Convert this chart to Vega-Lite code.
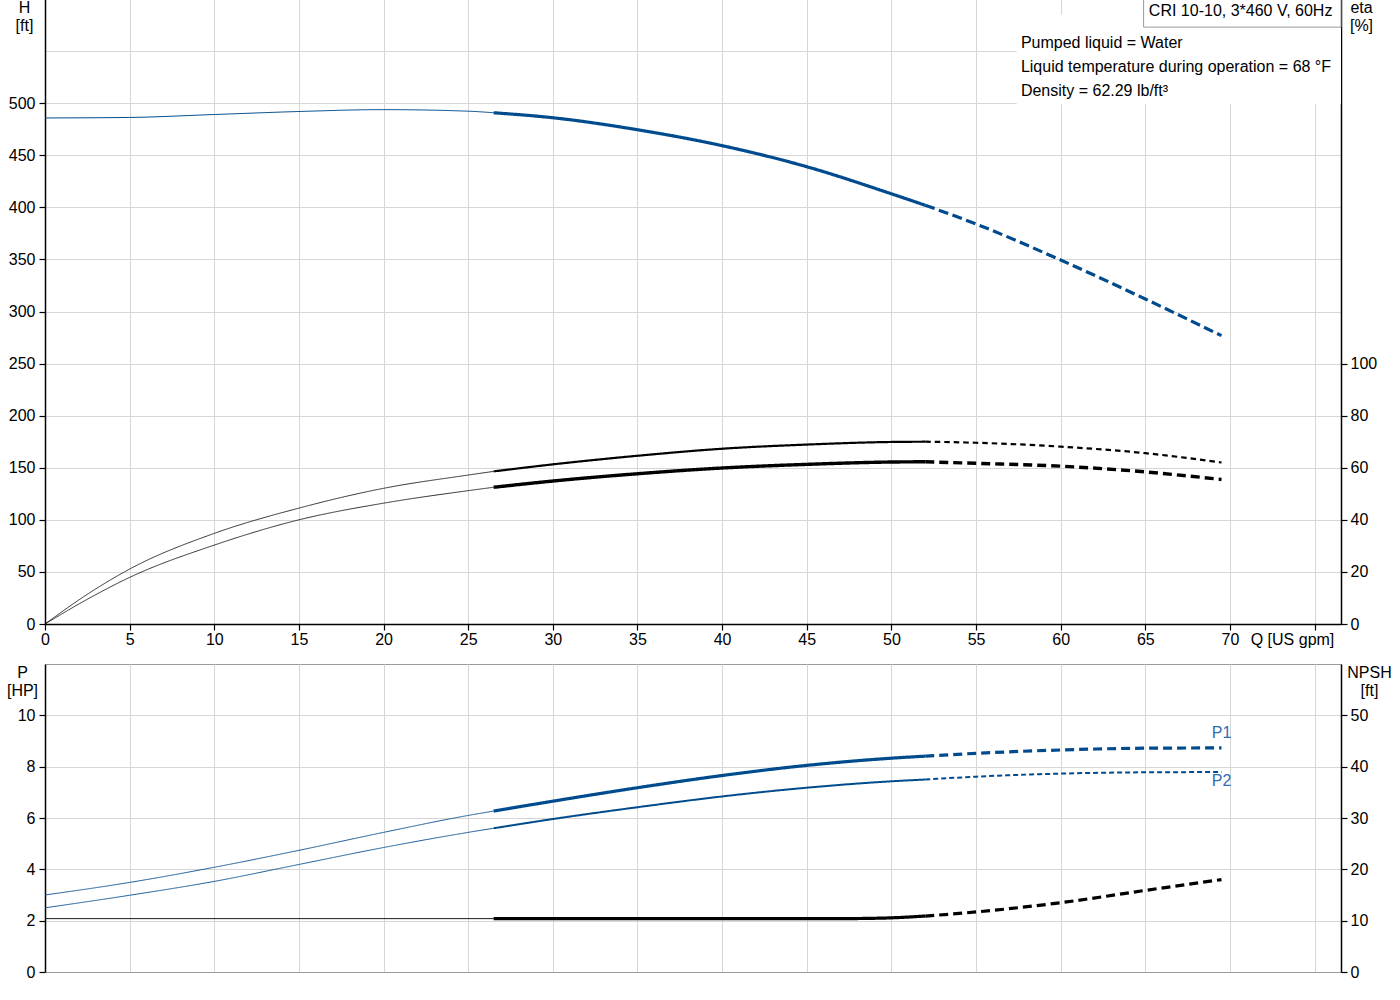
{
  "$schema": "https://vega.github.io/schema/vega-lite/v6.json",
  "background": "white",
  "padding": {"left": 5, "top": -2, "right": 5, "bottom": 5},
  "spacing": 40,
  "bounds": "flush",
  "datasets": {
    "curves": [
      {"curve": "H", "seg": "thin", "Q": 0, "value": 485.8},
      {"curve": "H", "seg": "thin", "Q": 5, "value": 486.3},
      {"curve": "H", "seg": "thin", "Q": 10, "value": 489.1},
      {"curve": "H", "seg": "thin", "Q": 15, "value": 492},
      {"curve": "H", "seg": "thin", "Q": 20, "value": 493.8},
      {"curve": "H", "seg": "thin", "Q": 25, "value": 492.3},
      {"curve": "H", "seg": "thin", "Q": 26.5, "value": 490.8},
      {"curve": "H", "seg": "op", "Q": 26.5, "value": 490.8},
      {"curve": "H", "seg": "op", "Q": 30, "value": 486},
      {"curve": "H", "seg": "op", "Q": 35, "value": 474.5},
      {"curve": "H", "seg": "op", "Q": 40, "value": 459.2},
      {"curve": "H", "seg": "op", "Q": 45, "value": 439},
      {"curve": "H", "seg": "op", "Q": 50, "value": 413},
      {"curve": "H", "seg": "op", "Q": 52, "value": 402},
      {"curve": "H", "seg": "ext", "Q": 52, "value": 402},
      {"curve": "H", "seg": "ext", "Q": 55, "value": 384},
      {"curve": "H", "seg": "ext", "Q": 60, "value": 349.4},
      {"curve": "H", "seg": "ext", "Q": 65, "value": 312},
      {"curve": "H", "seg": "ext", "Q": 69.5, "value": 276.8},

      {"curve": "eta1", "seg": "thin", "Q": 0, "value": 0},
      {"curve": "eta1", "seg": "thin", "Q": 2.5, "value": 11.4},
      {"curve": "eta1", "seg": "thin", "Q": 5, "value": 21.1},
      {"curve": "eta1", "seg": "thin", "Q": 10, "value": 34.8},
      {"curve": "eta1", "seg": "thin", "Q": 15, "value": 44.5},
      {"curve": "eta1", "seg": "thin", "Q": 20, "value": 52.1},
      {"curve": "eta1", "seg": "thin", "Q": 25, "value": 57.2},
      {"curve": "eta1", "seg": "thin", "Q": 26.5, "value": 58.6},
      {"curve": "eta1", "seg": "op", "Q": 26.5, "value": 58.6},
      {"curve": "eta1", "seg": "op", "Q": 30, "value": 61.3},
      {"curve": "eta1", "seg": "op", "Q": 35, "value": 64.6},
      {"curve": "eta1", "seg": "op", "Q": 40, "value": 67.3},
      {"curve": "eta1", "seg": "op", "Q": 45, "value": 68.9},
      {"curve": "eta1", "seg": "op", "Q": 50, "value": 69.9},
      {"curve": "eta1", "seg": "op", "Q": 52, "value": 70},
      {"curve": "eta1", "seg": "ext", "Q": 52, "value": 70},
      {"curve": "eta1", "seg": "ext", "Q": 55, "value": 69.6},
      {"curve": "eta1", "seg": "ext", "Q": 60, "value": 68.1},
      {"curve": "eta1", "seg": "ext", "Q": 65, "value": 65.6},
      {"curve": "eta1", "seg": "ext", "Q": 69.5, "value": 62},

      {"curve": "eta2", "seg": "thin", "Q": 0, "value": 0},
      {"curve": "eta2", "seg": "thin", "Q": 2.5, "value": 9.5},
      {"curve": "eta2", "seg": "thin", "Q": 5, "value": 17.9},
      {"curve": "eta2", "seg": "thin", "Q": 10, "value": 30.3},
      {"curve": "eta2", "seg": "thin", "Q": 15, "value": 40},
      {"curve": "eta2", "seg": "thin", "Q": 20, "value": 46.4},
      {"curve": "eta2", "seg": "thin", "Q": 25, "value": 51.2},
      {"curve": "eta2", "seg": "thin", "Q": 26.5, "value": 52.5},
      {"curve": "eta2", "seg": "op", "Q": 26.5, "value": 52.5},
      {"curve": "eta2", "seg": "op", "Q": 30, "value": 54.9},
      {"curve": "eta2", "seg": "op", "Q": 35, "value": 57.7},
      {"curve": "eta2", "seg": "op", "Q": 40, "value": 59.9},
      {"curve": "eta2", "seg": "op", "Q": 45, "value": 61.3},
      {"curve": "eta2", "seg": "op", "Q": 50, "value": 62.2},
      {"curve": "eta2", "seg": "op", "Q": 52, "value": 62.3},
      {"curve": "eta2", "seg": "ext", "Q": 52, "value": 62.3},
      {"curve": "eta2", "seg": "ext", "Q": 55, "value": 61.7},
      {"curve": "eta2", "seg": "ext", "Q": 60, "value": 60.6},
      {"curve": "eta2", "seg": "ext", "Q": 65, "value": 58.4},
      {"curve": "eta2", "seg": "ext", "Q": 69.5, "value": 55.5},

      {"curve": "P1", "seg": "thin", "Q": 0, "value": 3},
      {"curve": "P1", "seg": "thin", "Q": 5, "value": 3.49},
      {"curve": "P1", "seg": "thin", "Q": 10, "value": 4.08},
      {"curve": "P1", "seg": "thin", "Q": 15, "value": 4.74},
      {"curve": "P1", "seg": "thin", "Q": 20, "value": 5.44},
      {"curve": "P1", "seg": "thin", "Q": 25, "value": 6.1},
      {"curve": "P1", "seg": "thin", "Q": 26.5, "value": 6.27},
      {"curve": "P1", "seg": "op", "Q": 26.5, "value": 6.27},
      {"curve": "P1", "seg": "op", "Q": 30, "value": 6.655},
      {"curve": "P1", "seg": "op", "Q": 35, "value": 7.18},
      {"curve": "P1", "seg": "op", "Q": 40, "value": 7.655},
      {"curve": "P1", "seg": "op", "Q": 45, "value": 8.05},
      {"curve": "P1", "seg": "op", "Q": 50, "value": 8.33},
      {"curve": "P1", "seg": "op", "Q": 52, "value": 8.41},
      {"curve": "P1", "seg": "ext", "Q": 52, "value": 8.41},
      {"curve": "P1", "seg": "ext", "Q": 55, "value": 8.52},
      {"curve": "P1", "seg": "ext", "Q": 60, "value": 8.65},
      {"curve": "P1", "seg": "ext", "Q": 65, "value": 8.72},
      {"curve": "P1", "seg": "ext", "Q": 69.5, "value": 8.73},

      {"curve": "P2", "seg": "thin", "Q": 0, "value": 2.5},
      {"curve": "P2", "seg": "thin", "Q": 5, "value": 2.99},
      {"curve": "P2", "seg": "thin", "Q": 10, "value": 3.53},
      {"curve": "P2", "seg": "thin", "Q": 15, "value": 4.19},
      {"curve": "P2", "seg": "thin", "Q": 20, "value": 4.85},
      {"curve": "P2", "seg": "thin", "Q": 25, "value": 5.44},
      {"curve": "P2", "seg": "thin", "Q": 26.5, "value": 5.6},
      {"curve": "P2", "seg": "op", "Q": 26.5, "value": 5.6},
      {"curve": "P2", "seg": "op", "Q": 30, "value": 5.96},
      {"curve": "P2", "seg": "op", "Q": 35, "value": 6.42},
      {"curve": "P2", "seg": "op", "Q": 40, "value": 6.84},
      {"curve": "P2", "seg": "op", "Q": 45, "value": 7.18},
      {"curve": "P2", "seg": "op", "Q": 50, "value": 7.43},
      {"curve": "P2", "seg": "op", "Q": 52, "value": 7.5},
      {"curve": "P2", "seg": "ext", "Q": 52, "value": 7.5},
      {"curve": "P2", "seg": "ext", "Q": 55, "value": 7.61},
      {"curve": "P2", "seg": "ext", "Q": 60, "value": 7.73},
      {"curve": "P2", "seg": "ext", "Q": 65, "value": 7.78},
      {"curve": "P2", "seg": "ext", "Q": 69.5, "value": 7.79},

      {"curve": "NPSH", "seg": "thin", "Q": 0, "value": 10.4},
      {"curve": "NPSH", "seg": "thin", "Q": 26.5, "value": 10.4},
      {"curve": "NPSH", "seg": "op", "Q": 26.5, "value": 10.4},
      {"curve": "NPSH", "seg": "op", "Q": 47, "value": 10.4},
      {"curve": "NPSH", "seg": "op", "Q": 49.5, "value": 10.5},
      {"curve": "NPSH", "seg": "op", "Q": 52, "value": 10.9},
      {"curve": "NPSH", "seg": "ext", "Q": 52, "value": 10.9},
      {"curve": "NPSH", "seg": "ext", "Q": 55, "value": 11.7},
      {"curve": "NPSH", "seg": "ext", "Q": 60, "value": 13.5},
      {"curve": "NPSH", "seg": "ext", "Q": 65, "value": 15.9},
      {"curve": "NPSH", "seg": "ext", "Q": 69.5, "value": 18}
    ],
    "boxes": [
      {"box": "info", "Q": 57.4, "Q2": 76.56, "value": 499, "value2": 585},
      {"box": "model", "Q": 64.9, "Q2": 76.56, "value": 573, "value2": 600}
    ],
    "notes": [
      {"text": "CRI 10-10, 3*460 V, 60Hz", "Q": 65.21, "value": 588.5},
      {"text": "Pumped liquid = Water", "Q": 57.65, "value": 557.8},
      {"text": "Liquid temperature during operation = 68 °F", "Q": 57.65, "value": 534.7},
      {"text": "Density = 62.29 lb/ft³", "Q": 57.65, "value": 511.7}
    ]
  },
  "vconcat": [
    {
      "width": 1296,
      "height": 625,
      "encoding": {
        "x": {
          "field": "Q",
          "type": "quantitative",
          "scale": {"domain": [0, 76.56], "nice": false, "zero": false},
          "axis": {
            "values": [0, 5, 10, 15, 20, 25, 30, 35, 40, 45, 50, 55, 60, 65, 70, 75],
            "labelExpr": "datum.value == 75 ? '' : datum.label",
            "grid": true,
            "labelPadding": 1,
            "title": "Q [US gpm]",
            "titleX": 1247,
            "titleY": 7,
            "titleAlign": "center",
            "titleBaseline": "top"
          }
        }
      },
      "layer": [
        {
          "encoding": {
            "y": {
              "field": "value",
              "type": "quantitative",
              "scale": {"domain": [0, 600], "nice": false},
              "axis": {
                "values": [0, 50, 100, 150, 200, 250, 300, 350, 400, 450, 500, 550],
                "labelExpr": "datum.value == 550 ? '' : datum.label",
                "tickOpacity": {"condition": {"test": "datum.value == 550", "value": 0}, "value": 1},
                "grid": true,
                "labelPadding": 4,
                "title": ["H", "[ft]"],
                "titleAngle": 0,
                "titleX": -21,
                "titleY": 0,
                "titleAlign": "center",
                "titleBaseline": "top",
                "titleLineHeight": 18
              }
            }
          },
          "layer": [
            {
              "data": {"name": "boxes"},
              "transform": [{"filter": "datum.box == 'info'"}],
              "mark": {"type": "rect", "fill": "white", "stroke": null},
              "encoding": {"x2": {"field": "Q2"}, "y2": {"field": "value2"}}
            },
            {
              "data": {"name": "boxes"},
              "transform": [{"filter": "datum.box == 'model'"}],
              "mark": {"type": "rect", "fill": "white", "stroke": "#9a9a9a", "strokeWidth": 1},
              "encoding": {"x2": {"field": "Q2"}, "y2": {"field": "value2"}}
            },
            {
              "data": {"name": "notes"},
              "mark": {"type": "text", "align": "left", "baseline": "middle", "fontSize": 16, "color": "#000", "font": "Liberation Sans"},
              "encoding": {"text": {"field": "text"}}
            },
            {
              "data": {"name": "curves"},
              "transform": [{"filter": "datum.curve == 'H'"}],
              "mark": {"type": "line", "color": "#004b8d", "interpolate": "monotone"},
              "encoding": {
                "detail": {"field": "seg"},
                "strokeWidth": {"condition": {"test": "datum.seg == 'thin'", "value": 1}, "value": 3.2},
                "strokeDash": {"condition": {"test": "datum.seg == 'ext'", "value": [10, 4.5]}, "value": [1, 0]}
              }
            }
          ]
        },
        {
          "encoding": {
            "y": {
              "field": "value",
              "type": "quantitative",
              "scale": {"domain": [0, 240], "nice": false},
              "axis": {
                "orient": "right",
                "values": [0, 20, 40, 60, 80, 100],
                "grid": false,
                "labelPadding": 3,
                "title": ["eta", "[%]"],
                "titleAngle": 0,
                "titleX": 20,
                "titleY": 0,
                "titleAlign": "center",
                "titleBaseline": "top",
                "titleLineHeight": 18
              }
            }
          },
          "layer": [
            {
              "data": {"name": "curves"},
              "transform": [{"filter": "datum.curve == 'eta1'"}],
              "mark": {"type": "line", "color": "#000", "interpolate": "monotone"},
              "encoding": {
                "detail": {"field": "seg"},
                "strokeWidth": {"condition": {"test": "datum.seg == 'thin'", "value": 0.8}, "value": 2.2},
                "strokeDash": {"condition": {"test": "datum.seg == 'ext'", "value": [5.5, 4]}, "value": [1, 0]}
              }
            },
            {
              "data": {"name": "curves"},
              "transform": [{"filter": "datum.curve == 'eta2'"}],
              "mark": {"type": "line", "color": "#000", "interpolate": "monotone"},
              "encoding": {
                "detail": {"field": "seg"},
                "strokeWidth": {"condition": {"test": "datum.seg == 'thin'", "value": 0.8}, "value": 3.4},
                "strokeDash": {"condition": {"test": "datum.seg == 'ext'", "value": [9, 5]}, "value": [1, 0]}
              }
            }
          ]
        }
      ],
      "resolve": {"scale": {"y": "independent"}, "axis": {"y": "independent"}}
    },
    {
      "width": 1296,
      "height": 308,
      "encoding": {
        "x": {
          "field": "Q",
          "type": "quantitative",
          "scale": {"domain": [0, 76.56], "nice": false, "zero": false},
          "axis": {
            "values": [0, 5, 10, 15, 20, 25, 30, 35, 40, 45, 50, 55, 60, 65, 70, 75],
            "labels": false,
            "ticks": false,
            "grid": true,
            "title": null,
            "domainColor": "#9a9a9a",
            "domainWidth": 1
          }
        }
      },
      "layer": [
        {
          "encoding": {
            "y": {
              "field": "value",
              "type": "quantitative",
              "scale": {"domain": [0, 12], "nice": false},
              "axis": {
                "values": [0, 2, 4, 6, 8, 10],
                "grid": true,
                "labelPadding": 4,
                "title": ["P", "[HP]"],
                "titleAngle": 0,
                "titleX": -23,
                "titleY": 0,
                "titleAlign": "center",
                "titleBaseline": "top",
                "titleLineHeight": 18
              }
            }
          },
          "layer": [
            {
              "data": {"name": "curves"},
              "transform": [{"filter": "datum.curve == 'P1'"}],
              "mark": {"type": "line", "color": "#004b8d", "interpolate": "monotone"},
              "encoding": {
                "detail": {"field": "seg"},
                "strokeWidth": {"condition": {"test": "datum.seg == 'thin'", "value": 0.9}, "value": 3.2},
                "strokeDash": {"condition": {"test": "datum.seg == 'ext'", "value": [9, 5]}, "value": [1, 0]}
              }
            },
            {
              "data": {"name": "curves"},
              "transform": [{"filter": "datum.curve == 'P2'"}],
              "mark": {"type": "line", "color": "#004b8d", "interpolate": "monotone"},
              "encoding": {
                "detail": {"field": "seg"},
                "strokeWidth": {"condition": {"test": "datum.seg == 'thin'", "value": 0.9}, "value": 2},
                "strokeDash": {"condition": {"test": "datum.seg == 'ext'", "value": [5, 3]}, "value": [1, 0]}
              }
            },
            {
              "data": {"name": "curves"},
              "transform": [{"filter": "datum.curve == 'P1' && datum.seg == 'ext' && datum.Q == 69.5"}],
              "mark": {"type": "text", "align": "center", "baseline": "middle", "dy": -15, "fontSize": 16, "color": "#2f6db5", "font": "Liberation Sans"},
              "encoding": {"text": {"field": "curve"}}
            },
            {
              "data": {"name": "curves"},
              "transform": [{"filter": "datum.curve == 'P2' && datum.seg == 'ext' && datum.Q == 69.5"}],
              "mark": {"type": "text", "align": "center", "baseline": "middle", "dy": 9, "fontSize": 16, "color": "#2f6db5", "font": "Liberation Sans"},
              "encoding": {"text": {"field": "curve"}}
            }
          ]
        },
        {
          "data": {"name": "curves"},
          "transform": [{"filter": "datum.curve == 'NPSH'"}],
          "mark": {"type": "line", "color": "#000", "interpolate": "monotone"},
          "encoding": {
            "y": {
              "field": "value",
              "type": "quantitative",
              "scale": {"domain": [0, 60], "nice": false},
              "axis": {
                "orient": "right",
                "values": [0, 10, 20, 30, 40, 50],
                "grid": false,
                "labelPadding": 3,
                "title": ["NPSH", "[ft]"],
                "titleAngle": 0,
                "titleX": 28,
                "titleY": 0,
                "titleAlign": "center",
                "titleBaseline": "top",
                "titleLineHeight": 18
              }
            },
            "detail": {"field": "seg"},
            "strokeWidth": {"condition": {"test": "datum.seg == 'thin'", "value": 0.9}, "value": 3.2},
            "strokeDash": {"condition": {"test": "datum.seg == 'ext'", "value": [9, 5]}, "value": [1, 0]}
          }
        }
      ],
      "resolve": {"scale": {"y": "independent"}, "axis": {"y": "independent"}}
    }
  ],
  "config": {
    "font": "Liberation Sans",
    "view": {"stroke": "#9a9a9a", "strokeWidth": 1},
    "axis": {
      "labelFont": "Liberation Sans",
      "labelFontSize": 16,
      "labelColor": "#000",
      "titleFont": "Liberation Sans",
      "titleFontSize": 16,
      "titleFontWeight": "normal",
      "titleColor": "#000",
      "domainColor": "#000",
      "domainWidth": 1.5,
      "tickColor": "#000",
      "tickSize": 6,
      "tickWidth": 1.2,
      "gridColor": "#d6d6d6",
      "gridWidth": 1,
      "labelFlush": false,
      "labelOverlap": false
    }
  }
}
